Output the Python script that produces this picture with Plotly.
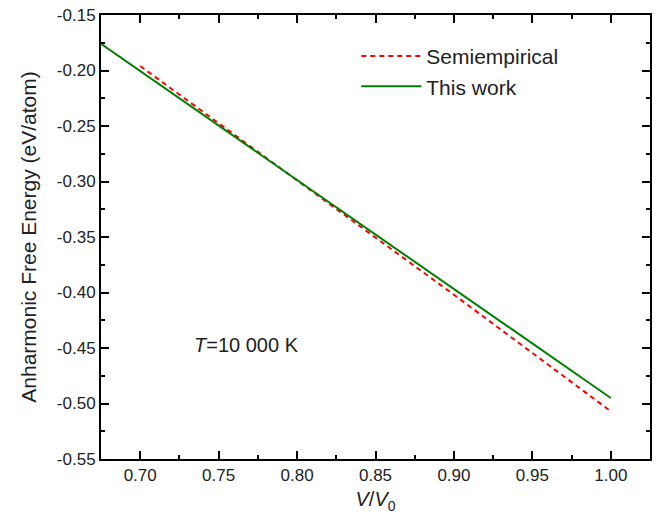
import plotly.graph_objects as go

# Anharmonic free energy vs. compression at T = 10 000 K
v_semi = [0.70, 0.75, 0.80, 0.85, 0.90, 0.95, 1.00]
f_semi = [-0.196, -0.2475, -0.2990, -0.3505, -0.4020, -0.4545, -0.507]

v_this = [0.675, 0.75, 0.85, 0.95, 1.00]
f_this = [-0.176, -0.2495, -0.3475, -0.4455, -0.495]

x_ticks = [0.70, 0.75, 0.80, 0.85, 0.90, 0.95, 1.00]
y_ticks = [-0.55, -0.50, -0.45, -0.40, -0.35, -0.30, -0.25, -0.20, -0.15]

FONT = "Liberation Sans, Arial, sans-serif"
TXT = "#222222"

fig = go.Figure()
fig.add_trace(go.Scatter(
    x=v_semi, y=f_semi, mode="lines", name="Semiempirical",
    line=dict(color="#ff0000", width=2, dash="5px,4px"),
))
fig.add_trace(go.Scatter(
    x=v_this, y=f_this, mode="lines", name="This work",
    line=dict(color="#007f00", width=2),
))

axis_common = dict(
    showgrid=False, zeroline=False,
    showline=True, linecolor="black", linewidth=2, mirror="ticks",
    ticks="inside", ticklen=8, tickwidth=1.5, tickcolor="black",
    tickfont=dict(family=FONT, size=17, color=TXT),
)

fig.update_xaxes(
    range=[0.675, 1.025], tickvals=x_ticks,
    ticktext=[f"{v:.2f}" for v in x_ticks],
    minor=dict(ticks="inside", ticklen=4, tickwidth=1.5, tickcolor="black", dtick=0.025, tick0=0.675),
    title=dict(text="<i>V</i>/<i>V</i><sub>0</sub>", font=dict(family=FONT, size=20, color=TXT), standoff=8),
    **axis_common,
)
fig.update_yaxes(
    range=[-0.55, -0.15], tickvals=y_ticks,
    ticktext=[f"{v:.2f}" for v in y_ticks],
    minor=dict(ticks="inside", ticklen=4, tickwidth=1.5, tickcolor="black", dtick=0.025, tick0=-0.55),
    title=dict(text="Anharmonic Free Energy (eV/atom)", font=dict(family=FONT, size=21, color=TXT), standoff=14),
    **axis_common,
)

fig.add_annotation(
    x=0.768, y=-0.447, xref="x", yref="y", showarrow=False,
    text="<i>T</i>=10 000 K", font=dict(family=FONT, size=20, color=TXT),
)

fig.update_layout(
    width=658, height=522,
    margin=dict(l=101, r=6, t=15, b=63),
    paper_bgcolor="white", plot_bgcolor="white",
    showlegend=True,
    legend=dict(
        x=0.465, y=0.953, xanchor="left", yanchor="top",
        bgcolor="rgba(0,0,0,0)", borderwidth=0,
        font=dict(family=FONT, size=21, color=TXT),
        itemwidth=60, tracegroupgap=0,
    ),
)

fig.write_html("out.html")
